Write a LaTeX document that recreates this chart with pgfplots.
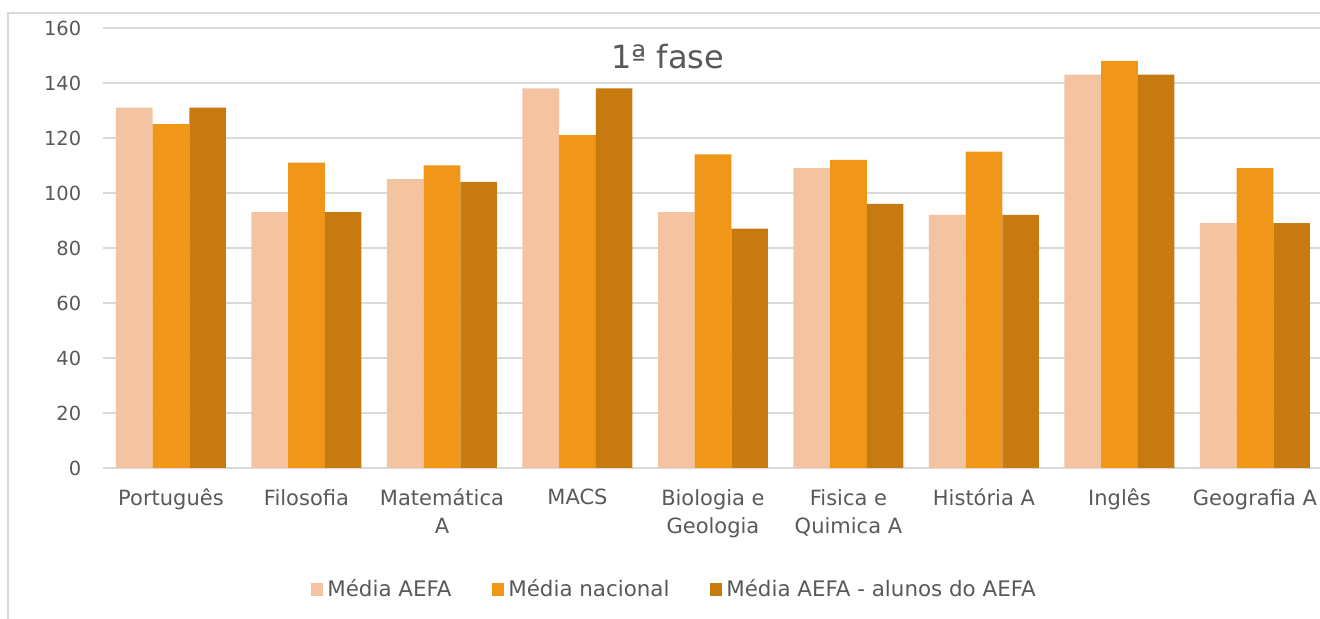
\documentclass[border=0pt]{standalone}
\usepackage{fontspec}
\setmainfont{DejaVu Sans}
\usepackage{pgfplots}
\pgfplotsset{compat=1.18}

\definecolor{serA}{HTML}{F4C3A1}
\definecolor{serB}{HTML}{F09619}
\definecolor{serC}{HTML}{C67A10}
\definecolor{txt}{HTML}{595959}
\definecolor{grd}{HTML}{D9D9D9}

\begin{document}
\begin{tikzpicture}
\path[use as bounding box] (-51.6pt,-75.5pt) rectangle (608.4pt,234pt);
\begin{axis}[
    scale only axis,
    width=609.75pt,
    height=220pt,
    ybar=0pt,
    bar width=18.33pt,
    xmin=-0.5, xmax=8.5,
    ymin=0, ymax=160,
    ytick={0,20,...,160},
    xtick=data,
    xticklabels={Português, Filosofia, {Matemática\\A}, MACS, {Biologia e\\Geologia}, {Fisica e\\Quimica A}, História A, Inglês, Geografia A},
    x tick label style={align=center, font=\fontsize{10.5}{14}\selectfont, text=txt, yshift=-7pt},
    y tick label style={font=\fontsize{9.7}{12}\selectfont, text=txt, xshift=-7.5pt},
    /pgf/number format/assume math mode=true,
    major tick length=0pt,
    ymajorgrids=true,
    grid style={grd, line width=0.75pt},
    axis line style={draw=none},
    extra y ticks={0},
    extra y tick labels={},
    extra y tick style={grid style={grd, line width=0.9pt}},
    title={1ª fase},
    title style={at={(0.463,0.934)}, anchor=center, yshift=-6pt, font=\fontsize{16}{19}\selectfont, text=txt},
    legend columns=-1,
    legend style={at={(0.469,-0.277)}, anchor=center, draw=none, fill=none,
        font=\fontsize{10.7}{13}\selectfont, text=txt,
        /tikz/every even column/.append style={column sep=18pt}},
    legend image code/.code={\fill[#1] (0pt,-3.2pt) rectangle (6.4pt,3.2pt);},
]
\addplot[fill=serA, draw=none] coordinates {(0,131) (1,93) (2,105) (3,138) (4,93) (5,109) (6,92) (7,143) (8,89)};
\addplot[fill=serB, draw=none] coordinates {(0,125) (1,111) (2,110) (3,121) (4,114) (5,112) (6,115) (7,148) (8,109)};
\addplot[fill=serC, draw=none] coordinates {(0,131) (1,93) (2,104) (3,138) (4,87) (5,96) (6,92) (7,143) (8,89)};
\legend{Média AEFA, Média nacional, Média AEFA - alunos do AEFA}
\end{axis}
\draw[grd, line width=0.6pt] (-47.6pt,-80pt) -- (-47.6pt,227.5pt) -- (615pt,227.5pt);
\end{tikzpicture}
\end{document}
